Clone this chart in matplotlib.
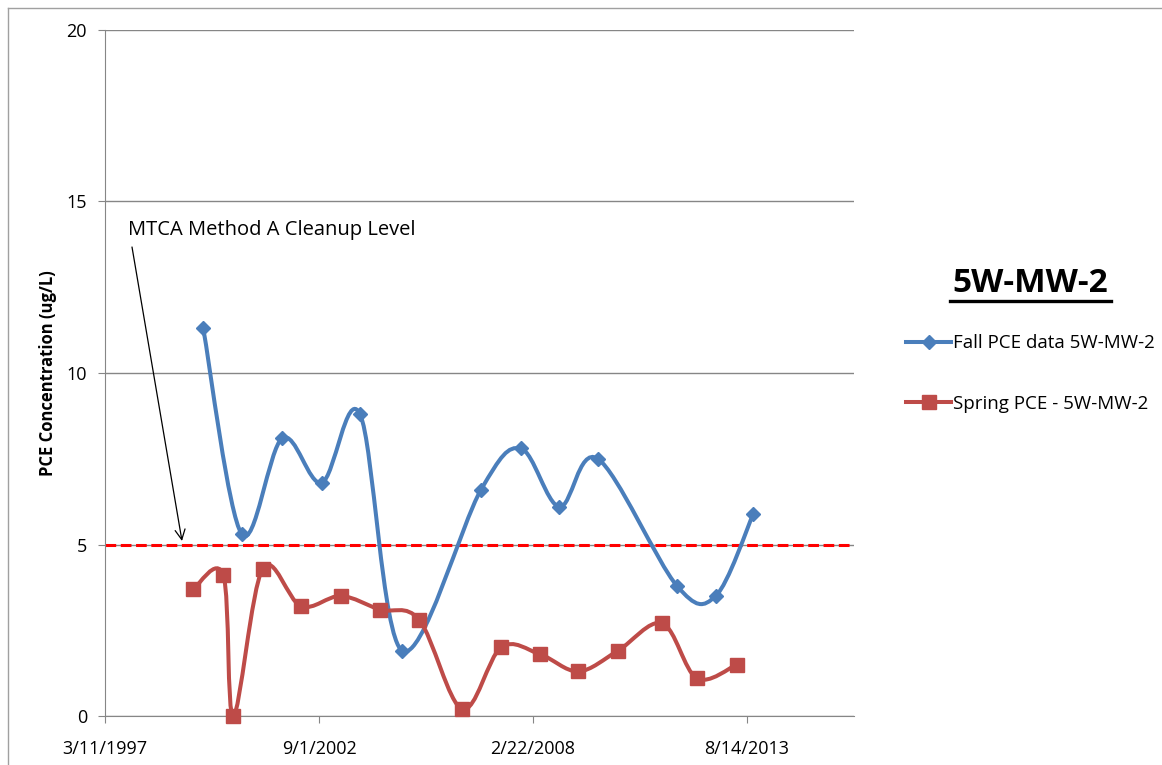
import matplotlib
matplotlib.use('Agg')
import matplotlib.pyplot as plt
import matplotlib.dates as mdates
from matplotlib.path import Path
from matplotlib.patches import PathPatch
from matplotlib.lines import Line2D
import numpy as np
import datetime as dt

plt.rcParams['font.family'] = ['Open Sans', 'DejaVu Sans']

# data
fall_dates = ['1999-09-15', '2000-09-09', '2001-09-23', '2002-09-26', '2003-09-19', '2004-10-18',
              '2006-10-24', '2007-10-30', '2008-10-25', '2009-10-19', '2011-10-27', '2012-10-25',
              '2013-10-12']
fall_pce = [11.3, 5.3, 8.1, 6.8, 8.8, 1.9, 6.6, 7.8, 6.1, 7.5, 3.8, 3.5, 5.9]

spring_dates = ['1999-06-14', '2000-03-21', '2000-06-22', '2001-03-24', '2002-03-17', '2003-03-23',
                '2004-03-24', '2005-03-26', '2006-05-02', '2007-04-29', '2008-04-27', '2009-04-20',
                '2010-04-24', '2011-06-14', '2012-05-01', '2013-05-10']
spring_pce = [3.7, 4.1, 0.0, 4.3, 3.2, 3.5, 3.1, 2.8, 0.2, 2.0, 1.8, 1.3, 1.9, 2.7, 1.1, 1.5]

cleanup_level = 5
tick_dates = ['1997-03-11', '2002-09-01', '2008-02-22', '2013-08-14']
x_max = '2016-05-09'

blue = '#4a7ebb'
red = '#be4b48'


def to_num(ds):
    return mdates.date2num([dt.datetime.strptime(d, '%Y-%m-%d') for d in ds])


def smooth_path(x, y):
    # catmull-rom style bezier, like excel's smoothed line
    pts = np.column_stack([x, y])
    n = len(pts)
    verts = [pts[0]]
    codes = [Path.MOVETO]
    for i in range(n - 1):
        p0 = pts[i - 1] if i > 0 else pts[i]
        p1 = pts[i]
        p2 = pts[i + 1]
        p3 = pts[i + 2] if i + 2 < n else pts[i + 1]
        c1 = p1 + (p2 - p0) / 6.0
        c2 = p2 - (p3 - p1) / 6.0
        verts += [c1, c2, p2]
        codes += [Path.CURVE4] * 3
    return Path(verts, codes)


fig = plt.figure(figsize=(11.62, 7.65), dpi=100)
ax = fig.add_axes([105 / 1162, 49 / 765, 749 / 1162, 686 / 765])

xf = to_num(fall_dates)
xs = to_num(spring_dates)

ax.axhline(cleanup_level, color='#ff0000', lw=2.2, ls=(0, (3.5, 1.5)), zorder=2)

ax.add_patch(PathPatch(smooth_path(xf, fall_pce), fc='none', ec=blue, lw=2.9, zorder=3))
ax.add_patch(PathPatch(smooth_path(xs, spring_pce), fc='none', ec=red, lw=2.9, zorder=3))
ax.plot(xf, fall_pce, ls='none', marker='D', ms=7, color=blue, zorder=4, clip_on=False)
ax.plot(xs, spring_pce, ls='none', marker='s', ms=10, color=red, zorder=4, clip_on=False)

ax.set_xlim(to_num(tick_dates)[0], to_num([x_max])[0])
ax.set_ylim(0, 20)
ax.set_xticks(to_num(tick_dates))
ax.set_xticklabels([dt.datetime.strptime(d, '%Y-%m-%d').strftime('%-m/%-d/%Y') for d in tick_dates])
ax.set_yticks([0, 5, 10, 15, 20])
ax.tick_params(axis='both', direction='out', length=5, color='#868686', labelsize=13, pad=8)
ax.tick_params(axis='x', pad=12)
ax.grid(axis='y', color='#868686', lw=1)
ax.set_axisbelow(True)
for s in ['top', 'right']:
    ax.spines[s].set_visible(False)
for s in ['left', 'bottom']:
    ax.spines[s].set_color('#868686')
ax.set_ylabel('PCE Concentration (ug/L)', fontsize=12, fontweight='bold', labelpad=7)

ax.text(128 / 1162, 1 - 230 / 765, 'MTCA Method A Cleanup Level', transform=fig.transFigure,
        fontsize=14.5, va='center', ha='left')
ax.annotate('', xy=(182, 765 - 541), xycoords='figure pixels',
            xytext=(132, 765 - 247), textcoords='figure pixels',
            arrowprops=dict(arrowstyle='->', color='black', lw=0.9, shrinkA=0, shrinkB=0,
                            mutation_scale=18))

# legend
fig.text(1030 / 1162, 1 - 283 / 765, '5W-MW-2', fontsize=24, fontweight='bold', ha='center', va='center')
fig.add_artist(Line2D([950 / 1162, 1111 / 1162], [1 - 301 / 765, 1 - 301 / 765], color='black', lw=2.4))
handles = [Line2D([], [], color=blue, lw=2.9, marker='D', ms=7),
           Line2D([], [], color=red, lw=2.9, marker='s', ms=10)]
fig.legend(handles, ['Fall PCE data 5W-MW-2', 'Spring PCE - 5W-MW-2'], loc='upper left',
           bbox_to_anchor=(897 / 1162, 1 - 325 / 765), frameon=False, fontsize=13.5,
           handlelength=2.4, handletextpad=0.1, labelspacing=2.25, borderpad=0)

# chart area border
fig.add_artist(Line2D([8 / 1162, 8 / 1162], [0, 1 - 8 / 765], color='#a0a0a0', lw=1))
fig.add_artist(Line2D([8 / 1162, 1], [1 - 8 / 765, 1 - 8 / 765], color='#a0a0a0', lw=1))

fig.savefig('out.png', dpi=100)
